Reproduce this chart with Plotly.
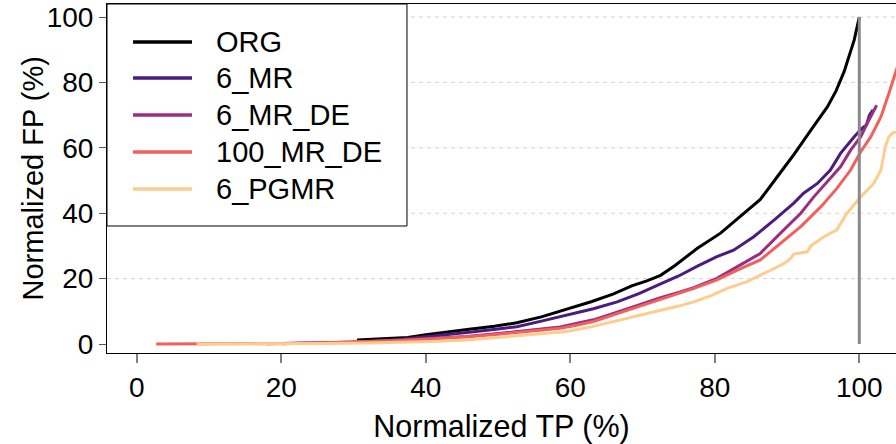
import plotly.graph_objects as go

# ---------------- data ----------------
series_names = ["ORG", "6_MR", "6_MR_DE", "100_MR_DE", "6_PGMR"]
series_colors = ["#000000", "#4B1C80", "#9C2E7F", "#F1605D", "#FECC8F"]

org_x = [30.5, 34.0, 37.5, 40.0, 43.0, 46.0, 49.5, 52.6, 56.0, 59.6, 63.0, 66.0, 67.2, 68.5, 70.6,
         72.5, 74.5, 77.6, 80.8, 84.0, 86.3, 88.6, 90.9, 93.3, 95.6, 96.8, 97.9, 99.3, 100.0]
org_y = [1.2, 1.6, 2.0, 2.8, 3.7, 4.5, 5.4, 6.5, 8.3, 10.6, 13.0, 15.3, 16.5, 17.8, 19.3,
         21.0, 24.0, 29.3, 33.9, 40.0, 44.2, 51.0, 57.8, 65.4, 72.6, 77.5, 83.3, 93.0, 100.0]

mr_x = [20.0, 26.0, 32.0, 36.0, 40.2, 45.7, 50.0, 52.6, 56.0, 59.6, 63.2, 66.5, 69.5, 72.5, 75.0,
        77.6, 80.3, 82.6, 85.4, 88.2, 90.9, 92.3, 94.2, 96.0, 97.4, 99.3, 100.4, 101.0, 101.4, 101.9]
mr_y = [0.1, 0.3, 0.7, 1.3, 2.2, 3.5, 4.6, 5.3, 7.0, 8.8, 10.8, 12.9, 15.4, 18.4, 20.8,
        23.8, 26.7, 28.7, 32.8, 37.9, 43.0, 46.1, 49.1, 53.2, 58.3, 63.4, 66.0, 67.0, 70.0, 71.6]

mrde_x = [18.0, 24.0, 30.0, 36.5, 41.0, 45.7, 50.0, 52.6, 56.0, 58.6, 61.0, 63.2, 66.5, 69.5, 72.5,
          75.0, 77.1, 80.3, 83.1, 86.3, 89.1, 91.9, 93.7, 95.6, 97.4, 98.8, 100.2, 101.1, 101.8, 102.4]
mrde_y = [0.05, 0.2, 0.5, 1.2, 1.7, 2.3, 3.2, 3.9, 4.6, 5.2, 6.3, 7.4, 9.7, 12.0, 14.2,
          15.8, 17.2, 20.1, 23.6, 27.7, 33.9, 40.0, 45.0, 49.6, 54.2, 59.3, 63.4, 67.5, 70.5, 73.0]

mrde100_x = [2.7, 8.0, 14.0, 20.0, 26.0, 32.0, 36.5, 41.0, 45.7, 50.0, 52.6, 56.0, 58.6, 61.0, 63.2,
             66.5, 69.5, 72.5, 75.0, 77.1, 80.3, 83.1, 86.3, 89.1, 91.9, 94.7, 96.9, 98.8, 100.2,
             101.6, 103.0, 104.1, 105.0, 105.6]
mrde100_y = [0.0, 0.0, 0.05, 0.15, 0.35, 0.7, 1.1, 1.6, 2.2, 3.0, 3.6, 4.3, 4.8, 5.8, 6.9,
             9.3, 11.5, 13.6, 15.3, 17.0, 19.6, 22.6, 25.7, 30.8, 35.9, 42.0, 47.6, 53.2, 58.8,
             63.4, 69.5, 76.7, 83.3, 87.0]

pgmr_x = [8.3, 14.0, 20.0, 26.0, 32.0, 36.5, 41.0, 45.7, 50.0, 52.6, 56.0, 59.6, 63.2, 66.5, 69.5,
          72.5, 75.0, 77.1, 79.5, 81.7, 84.5, 87.3, 89.5, 90.5, 90.9, 92.8, 93.3, 95.1, 96.9, 98.3,
          100.2, 102.0, 103.0, 103.6, 104.1, 104.6, 105.2, 105.6]
pgmr_y = [0.0, 0.0, 0.05, 0.15, 0.3, 0.5, 0.8, 1.2, 2.0, 2.6, 3.2, 3.8, 5.4, 7.1, 8.6,
          10.3, 11.6, 12.9, 14.8, 17.0, 19.1, 22.1, 24.5, 26.2, 27.5, 28.2, 30.0, 32.8, 34.9, 40.0,
          45.0, 49.1, 53.2, 60.3, 63.4, 64.5, 65.0, 65.2]

series_x = [org_x, mr_x, mrde_x, mrde100_x, pgmr_x]
series_y = [org_y, mr_y, mrde_y, mrde100_y, pgmr_y]

ref_x = [100, 100]
ref_y = [0, 100]

x_ticks = [0, 20, 40, 60, 80, 100]
y_ticks = [0, 20, 40, 60, 80, 100]
grid_vals = [20, 40, 60, 80, 100]

x_title = "Normalized TP (%)"
y_title = "Normalized FP (%)"

FONT = "Liberation Sans, Arial, sans-serif"

fig = go.Figure()
for name, color, xs, ys in zip(series_names, series_colors, series_x, series_y):
    fig.add_trace(go.Scatter(x=xs, y=ys, mode="lines", name=name,
                             line=dict(color=color, width=3), showlegend=False))

fig.add_trace(go.Scatter(x=ref_x, y=ref_y, mode="lines", showlegend=False,
                         line=dict(color="#8a8a8a", width=3), hoverinfo="skip"))

shapes = []
for g in grid_vals:
    shapes.append(dict(type="line", xref="paper", yref="y", x0=0, x1=1, y0=g, y1=g,
                       line=dict(color="#d3d3d3", width=1, dash="4px,4px"), layer="below"))

# legend box (paper coordinates of the plot area)
shapes.append(dict(type="rect", xref="paper", yref="paper", x0=0, x1=0.3802, y0=0.3639, y1=1,
                   line=dict(color="#000000", width=1), fillcolor="white", layer="above"))
annotations = []
row_py = [42, 78, 115, 152, 189]
for name, color, py in zip(series_names, series_colors, row_py):
    yp = (353 - py) / 349
    shapes.append(dict(type="line", xref="paper", yref="paper", x0=0.033, x1=0.1077, y0=yp, y1=yp,
                       line=dict(color=color, width=3.5), layer="above"))
    annotations.append(dict(xref="paper", yref="paper", x=(214 - 107) / 789, y=yp, text=name,
                            showarrow=False, xanchor="left", yanchor="middle",
                            font=dict(family=FONT, size=29, color="black")))

# y-axis title
annotations.append(dict(xref="paper", yref="paper", x=(32 - 107) / 789, y=0.5, text=y_title,
                        textangle=-90, showarrow=False, xanchor="center", yanchor="middle",
                        font=dict(family=FONT, size=29, color="black")))

fig.update_layout(
    width=896, height=444,
    margin=dict(l=107, r=0, t=4, b=91),
    paper_bgcolor="white", plot_bgcolor="white",
    font=dict(family=FONT, size=28, color="black"),
    shapes=shapes, annotations=annotations,
    showlegend=False,
)
fig.update_xaxes(range=[-4.11, 105.08], tickvals=x_ticks, ticks="outside", ticklen=9,
                 tickcolor="#7f7f7f", tickwidth=1.5, showgrid=False, zeroline=False,
                 showline=True, linecolor="black", linewidth=1, mirror=True,
                 tickfont=dict(size=28),
                 title=dict(text=x_title, font=dict(size=30.5), standoff=20))
fig.update_yaxes(range=[-2.75, 103.98], tickvals=y_ticks, ticks="outside", ticklen=7,
                 tickcolor="#555555", showgrid=False, zeroline=False,
                 showline=True, linecolor="black", linewidth=1, mirror=False,
                 tickfont=dict(size=28))

fig.write_html("out.html", config={"displayModeBar": False},
               post_script="document.body.style.margin='0';document.body.style.overflow='hidden';")
